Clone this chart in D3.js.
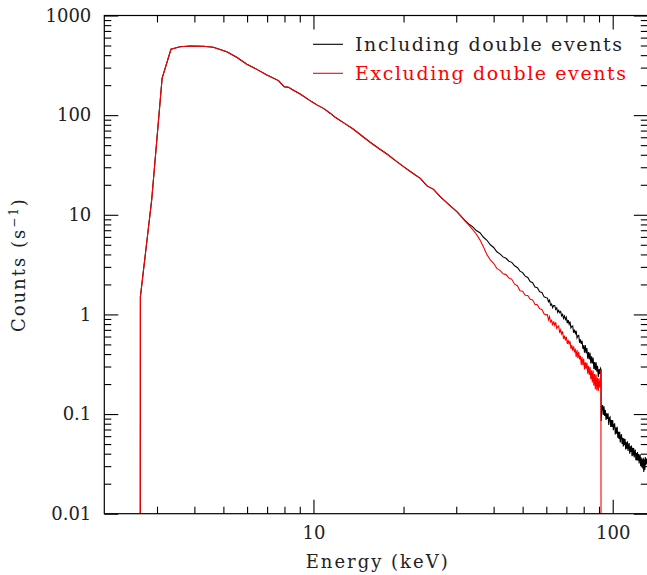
<!DOCTYPE html>
<html>
<head>
<meta charset="utf-8">
<script src="https://cdn.jsdelivr.net/npm/d3@7"></script>
<style>
  body { margin: 0; background: #fff; }
  text { font-family: "DejaVu Serif", serif; fill: #222; }
</style>
</head>
<body>
<svg id="chart" width="647" height="575"></svg>
<script>
// spectrum below ~31 keV, same for both event selections
var energyLow = [2.638, 2.64, 2.88, 3.12, 3.34, 3.58, 3.87, 4.29, 4.63, 5.13, 5.54, 5.99, 6.47, 6.99, 7.64, 7.98, 8.25, 8.6, 9.03, 9.88, 10.3, 10.8, 11.4, 11.82, 12.7, 13.61, 14.5, 15.47, 16.5, 17.6, 18.8, 20.0, 21.3, 22.75, 23.95, 25.2, 26.5, 28.3, 30.2];
var countsLow = [0.01, 1.5, 14.1, 234, 458, 486, 494, 491, 480, 433, 381, 324, 288, 253, 222, 193, 190, 177, 163, 136, 126, 117, 104, 95.1, 82.6, 72.1, 62.1, 53.4, 46.6, 40.7, 35.0, 30.4, 26.6, 23.2, 19.5, 18.0, 15.2, 12.7, 10.7];

// 31 - 60 keV
var energyMid = [31, 32, 33, 34, 35, 36, 37, 38, 39, 40, 41, 42, 43, 44, 45, 46, 47, 48, 49, 50, 51, 52, 53, 54, 55, 56, 57, 58, 59, 60];
var inclMid = [9.81, 8.84, 8.08, 7.60, 6.95, 6.60, 5.95, 5.55, 5.00, 4.70, 4.25, 4.05, 3.78, 3.66, 3.42, 3.33, 3.08, 2.96, 2.72, 2.63, 2.42, 2.35, 2.14, 2.08, 1.88, 1.85, 1.69, 1.66, 1.50, 1.47];
var exclMid = [9.81, 8.75, 7.90, 7.15, 6.42, 5.60, 4.75, 3.98, 3.52, 3.26, 2.90, 2.77, 2.56, 2.51, 2.32, 2.25, 2.01, 1.94, 1.73, 1.71, 1.56, 1.55, 1.42, 1.40, 1.26, 1.25, 1.14, 1.12, 1.01, 0.99];

// 60.5 - 91 keV
var energyHigh = [60.5, 61, 61.5, 62, 62.5, 63, 63.5, 64, 64.5, 65, 65.5, 66, 66.5, 67, 67.5, 68, 68.5, 69, 69.5, 70, 70.5, 71, 71.5, 72, 72.5, 73, 73.5, 74, 74.5, 75, 75.5, 76, 76.5, 77, 77.5, 78, 78.5, 79, 79.5, 80, 80.5, 81, 81.5, 82, 82.5, 83, 83.5, 84, 84.5, 85, 85.5, 86, 86.5, 87, 87.5, 88, 88.5, 89, 89.5, 90, 90.5, 91];
var inclHigh = [1.46, 1.34, 1.39, 1.24, 1.27, 1.17, 1.23, 1.23, 1.12, 1.16, 1.05, 1.10, 1.04, 1.07, 0.966, 1.00, 0.912, 0.966, 0.891, 0.933, 0.817, 0.879, 0.796, 0.847, 0.733, 0.762, 0.766, 0.655, 0.705, 0.646, 0.684, 0.582, 0.610, 0.617, 0.519, 0.562, 0.507, 0.543, 0.452, 0.490, 0.414, 0.494, 0.408, 0.460, 0.359, 0.419, 0.354, 0.413, 0.322, 0.380, 0.322, 0.368, 0.284, 0.333, 0.275, 0.330, 0.267, 0.305, 0.236, 0.282, 0.251, 0.288];
var exclHigh = [0.994, 0.881, 0.950, 0.841, 0.871, 0.776, 0.851, 0.776, 0.832, 0.724, 0.752, 0.764, 0.652, 0.701, 0.635, 0.675, 0.569, 0.612, 0.548, 0.596, 0.505, 0.551, 0.500, 0.540, 0.452, 0.493, 0.433, 0.478, 0.424, 0.442, 0.375, 0.439, 0.363, 0.421, 0.353, 0.385, 0.312, 0.374, 0.310, 0.359, 0.281, 0.330, 0.286, 0.328, 0.254, 0.305, 0.247, 0.296, 0.224, 0.275, 0.208, 0.273, 0.192, 0.252, 0.178, 0.250, 0.172, 0.231, 0.171, 0.229, 0.185, 0.21];

// excluded spectrum stops at ~91 keV
var energyRedEnd = [91.3, 91.4];
var exclEnd = [0.282, 0.01];

// including double events continues past the cut
var energyTail = [91.4, 91.5, 92, 92.5, 93, 93.5, 94, 94.5, 95, 95.5, 96, 96.5, 97, 97.5, 98, 98.5, 99, 99.5, 100, 100.5, 101, 101.5, 102, 102.5, 103, 103.5, 104, 104.5, 105, 105.5, 106, 106.5, 107, 107.5, 108, 108.5, 109, 109.5, 110, 110.5, 111, 111.5, 112, 112.5, 113, 113.5, 114, 114.5, 115, 115.5, 116, 116.5, 117, 117.5, 118, 118.5, 119, 119.5, 120, 120.5, 121, 121.5, 122, 122.5, 123, 123.5, 124, 124.5, 125, 125.5, 126, 126.5, 127, 127.5, 128, 128.5, 129, 129.5, 130];
var inclTail = [0.28, 0.085, 0.118, 0.123, 0.0977, 0.120, 0.0955, 0.110, 0.0871, 0.102, 0.0891, 0.102, 0.0776, 0.0912, 0.0933, 0.0741, 0.0871, 0.0741, 0.0871, 0.0690, 0.0773, 0.0807, 0.0625, 0.0733, 0.0637, 0.0746, 0.0578, 0.0662, 0.0562, 0.0664, 0.0518, 0.0597, 0.0628, 0.0501, 0.0578, 0.0472, 0.0570, 0.0488, 0.0562, 0.0441, 0.0522, 0.0449, 0.0532, 0.0427, 0.0483, 0.0511, 0.0400, 0.0474, 0.0417, 0.0483, 0.0378, 0.0459, 0.0385, 0.0457, 0.0366, 0.0415, 0.0439, 0.0344, 0.0407, 0.0343, 0.0417, 0.0343, 0.0398, 0.0320, 0.0372, 0.0394, 0.0302, 0.0367, 0.0302, 0.0352, 0.0284, 0.0364, 0.0262, 0.0351, 0.0275, 0.0371, 0.0306, 0.0357, 0.0316];

var yTickValues = [0.01, 0.1, 1, 10, 100, 1000];
var yTickLabels = ["0.01", "0.1", "1", "10", "100", "1000"];
var xTickValues = [10, 100];
var xTickLabels = ["10", "100"];
var seriesNames = ["Including double events", "Excluding double events"];
var seriesColors = ["#000", "#ff0000"];

var svg = d3.select("#chart");
var plotL = 104.3, plotR = 647.8, plotT = 15.5, plotB = 513.7;

var x = d3.scaleLog().domain([2, 131]).range([plotL, plotR]);
var y = d3.scaleLog().domain([0.01, 1000]).range([plotB, plotT]);

var pairs = (es, cs) => es.map((e, i) => [e, cs[i]]);
var incl = pairs(energyLow, countsLow).concat(pairs(energyMid, inclMid), pairs(energyHigh, inclHigh), pairs(energyTail, inclTail));
var excl = pairs(energyLow, countsLow).concat(pairs(energyMid, exclMid), pairs(energyHigh, exclHigh), pairs(energyRedEnd, exclEnd));

svg.append("clipPath").attr("id", "plotclip")
  .append("rect").attr("x", plotL).attr("y", plotT).attr("width", plotR - plotL).attr("height", plotB - plotT);

var line = d3.line().x(d => x(d[0])).y(d => y(d[1]));

var g = svg.append("g").attr("clip-path", "url(#plotclip)");
[incl, excl].forEach((data, i) => {
  g.append("path")
    .datum(data)
    .attr("d", line)
    .attr("fill", "none")
    .attr("stroke", seriesColors[i])
    .attr("stroke-width", 1.1)
    .attr("stroke-linejoin", "miter");
});

// ticks: minor from the log scales, majors from the arrays
var isPow10 = v => Math.abs(Math.log10(v) - Math.round(Math.log10(v))) < 1e-9;
var xMinor = x.ticks().filter(v => !isPow10(v) && v > 2);
var yMinor = y.ticks().filter(v => !isPow10(v));

function addAxis(axis, tr, labels) {
  var a = svg.append("g").attr("transform", tr).call(axis);
  a.select(".domain").remove();
  a.selectAll("line").attr("stroke", "#000").attr("stroke-width", 1.1);
  a.selectAll("text").attr("font-size", 18).attr("font-family", "DejaVu Serif").attr("fill", "#222");
  if (!labels) a.selectAll("text").remove();
  return a;
}

addAxis(d3.axisBottom(x).tickValues(xMinor).tickSize(-7).tickFormat(""), "translate(0," + plotB + ")", false);
addAxis(d3.axisTop(x).tickValues(xMinor).tickSize(-7).tickFormat(""), "translate(0," + plotT + ")", false);
addAxis(d3.axisBottom(x).tickValues(xTickValues).tickSize(-14).tickPadding(13)
  .tickFormat((d, i) => xTickLabels[i]), "translate(0," + plotB + ")", true);
addAxis(d3.axisTop(x).tickValues(xTickValues).tickSize(-14), "translate(0," + plotT + ")", false);

addAxis(d3.axisLeft(y).tickValues(yMinor).tickSize(-7).tickFormat(""), "translate(" + plotL + ",0)", false);
addAxis(d3.axisRight(y).tickValues(yMinor).tickSize(-7).tickFormat(""), "translate(" + plotR + ",0)", false);
addAxis(d3.axisLeft(y).tickValues(yTickValues).tickSize(-14).tickPadding(13)
  .tickFormat((d, i) => yTickLabels[i]), "translate(" + plotL + ",0)", true);
addAxis(d3.axisRight(y).tickValues(yTickValues).tickSize(-14), "translate(" + plotR + ",0)", false);

// frame
svg.append("rect")
  .attr("x", plotL).attr("y", plotT)
  .attr("width", plotR - plotL).attr("height", plotB - plotT)
  .attr("fill", "none").attr("stroke", "#000").attr("stroke-width", 1.2);

// axis titles
svg.append("text")
  .attr("x", 305.7).attr("y", 568.3)
  .attr("font-size", 18)
  .attr("textLength", 142).attr("lengthAdjust", "spacing")
  .text("Energy (keV)");

var yl = svg.append("text")
  .attr("transform", "translate(25," + ((plotT + plotB) / 2) + ") rotate(-90)")
  .attr("text-anchor", "middle")
  .attr("font-size", 18)
  .attr("letter-spacing", 2);
yl.append("tspan").text("Counts (s");
yl.append("tspan").attr("font-size", 12).attr("dy", -7).text("\u22121");
yl.append("tspan").attr("dy", 7).text(")");

// legend
var legendY = [44.3, 73.3];
var legendLen = [267, 271];
seriesNames.forEach((name, i) => {
  svg.append("line")
    .attr("x1", 313).attr("x2", 343)
    .attr("y1", legendY[i]).attr("y2", legendY[i])
    .attr("stroke", seriesColors[i]).attr("stroke-width", 1.1);
  svg.append("text")
    .attr("x", 355).attr("y", legendY[i] + 6.8)
    .attr("font-size", 19)
    .attr("textLength", legendLen[i]).attr("lengthAdjust", "spacing")
    .style("fill", i === 0 ? "#222" : seriesColors[i])
    .text(name);
});
</script>
</body>
</html>
